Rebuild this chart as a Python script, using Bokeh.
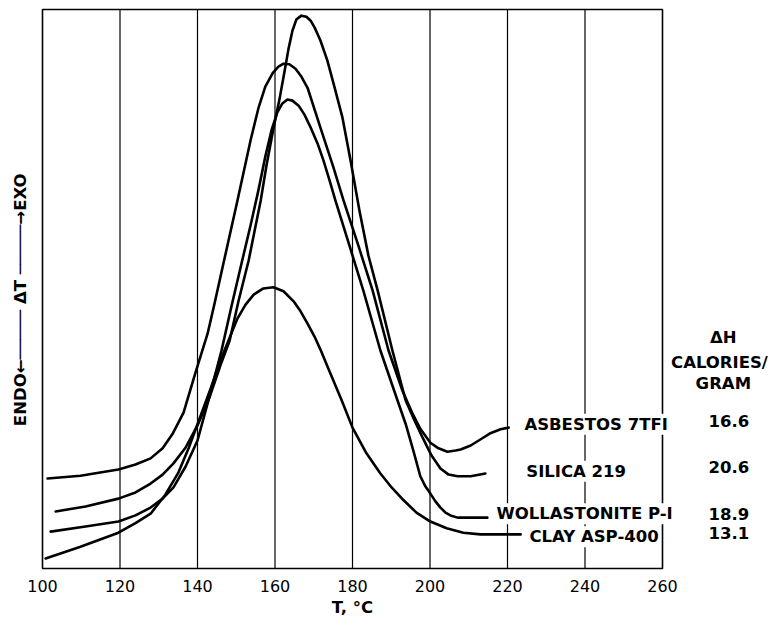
import math
from bokeh.plotting import figure
from bokeh.models import Range1d, Label, FixedTicker
from bokeh.embed import file_html
from bokeh.resources import INLINE

# ---- data (y is arbitrary deflection units 0-100) ----
x_ticks = [100, 120, 140, 160, 180, 200, 220, 240, 260]
y_box = [0, 100]

asb_T = [101.3, 109.8, 119.6, 124.0, 127.9, 131.0, 133.5, 136.4, 139.5, 142.6,
         144.4, 146.7, 150.3, 153.7, 155.7, 157.5, 159.4, 160.9, 162.2, 163.7,
         165.3, 166.8, 168.4, 171.7, 175.1, 177.7, 181.5, 185.2, 189.3, 192.9,
         195.5, 197.5, 200.1, 202.2, 204.5, 206.6, 207.9, 210.5, 213.5, 215.6,
         218.2, 220.3]
asb_Y = [16.1, 16.6, 17.7, 18.6, 19.7, 21.5, 24.0, 27.9, 35.1, 42.0,
         47.4, 54.6, 65.8, 76.6, 82.3, 86.2, 88.6, 89.8, 90.3, 90.2,
         89.4, 88.0, 86.0, 78.9, 71.7, 65.8, 57.8, 49.7, 39.0, 31.8,
         27.7, 25.0, 22.5, 21.5, 20.9, 21.1, 21.3, 22.0, 23.3, 24.2,
         24.9, 25.2]

sil_T = [103.4, 111.1, 119.6, 124.0, 127.9, 131.0, 133.8, 136.9, 140.0, 143.1,
         145.9, 148.3, 150.6, 153.2, 156.3, 157.8, 159.6, 161.2, 162.5, 163.5,
         164.5, 165.5, 166.8, 168.1, 169.2, 170.2, 171.7, 173.5, 175.1, 177.4,
         179.5, 181.8, 184.1, 186.5, 190.3, 193.7, 196.0, 198.1, 200.4, 202.7,
         204.8, 207.1, 210.5, 214.3]
sil_Y = [10.2, 11.1, 12.5, 13.6, 15.2, 16.8, 18.8, 21.6, 25.6, 30.6,
         36.3, 40.8, 47.9, 55.1, 65.8, 72.1, 78.7, 84.1, 89.1, 93.0,
         96.2, 98.2, 98.9, 98.7, 98.0, 96.8, 94.5, 90.9, 86.8, 80.7,
         73.0, 64.0, 56.0, 49.7, 39.0, 30.1, 26.5, 23.4, 20.2, 17.9,
         16.8, 16.5, 16.5, 17.0]

wol_T = [102.1, 111.1, 119.6, 124.0, 127.9, 131.0, 133.8, 136.9, 140.0, 143.1,
         146.2, 148.8, 151.4, 153.7, 155.7, 157.5, 159.1, 160.6, 161.9, 163.2,
         164.5, 166.1, 167.6, 169.2, 171.0, 172.5, 174.1, 175.6, 179.2, 182.8,
         187.2, 191.6, 193.7, 195.7, 197.5, 198.8, 200.1, 201.4, 202.7, 204.0,
         205.3, 207.1, 214.8]
wol_Y = [6.6, 7.5, 8.4, 9.5, 10.9, 12.5, 14.5, 18.2, 22.9, 30.8,
         39.0, 47.0, 54.7, 61.4, 67.6, 73.7, 78.4, 81.6, 83.2, 83.9,
         83.7, 82.8, 81.2, 78.9, 76.0, 73.0, 69.4, 65.8, 57.8, 49.7,
         39.0, 30.1, 25.9, 21.1, 16.5, 14.7, 13.4, 12.0, 10.9, 10.0,
         9.5, 9.1, 9.1]

clay_T = [100.8, 109.8, 119.6, 124.0, 127.9, 131.7, 135.1, 137.7, 140.0, 143.4,
          145.9, 148.0, 150.3, 152.4, 154.5, 157.0, 159.6, 162.2, 164.8, 166.6,
          168.4, 170.2, 171.7, 174.3, 177.2, 180.0, 183.6, 187.2, 190.1, 193.2,
          196.5, 200.1, 204.3, 208.6, 213.0, 223.4]
clay_Y = [1.8, 3.9, 6.4, 8.1, 9.8, 13.2, 17.2, 21.5, 25.8, 32.2,
          37.2, 40.8, 44.7, 47.2, 49.0, 50.1, 50.3, 49.6, 47.8, 46.0,
          43.8, 41.5, 39.2, 34.9, 30.1, 25.2, 20.6, 17.0, 14.5, 12.2,
          10.0, 8.4, 7.2, 6.4, 6.1, 6.1]

names = ["ASBESTOS 7TFI", "SILICA  219", "WOLLASTONITE P-I", "CLAY ASP-400"]
dH = ["16.6", "20.6", "18.9", "13.1"]

FONT = "DejaVu Sans"
FS = "16.5px"

# the frame covers the whole canvas; chart box drawn from x_ticks / y_box
p = figure(width=772, height=618,
           x_range=Range1d(89.1613, 288.3871), y_range=Range1d(-8.9445, 101.6100),
           output_backend="svg", toolbar_location=None,
           min_border=0, min_border_left=0, min_border_right=0,
           min_border_top=0, min_border_bottom=0)

p.background_fill_color = "white"
p.border_fill_color = "white"
p.outline_line_color = None
p.yaxis.visible = False
p.ygrid.visible = False
p.xgrid.visible = False

ax = p.xaxis[0]
ax.fixed_location = 0
ax.ticker = FixedTicker(ticks=x_ticks)
ax.axis_line_color = None
ax.major_tick_line_color = None
ax.minor_tick_line_color = None
ax.major_tick_in = 0
ax.major_tick_out = 0
ax.major_label_standoff = 11
ax.major_label_text_font = FONT
ax.major_label_text_font_size = "16px"
ax.major_label_text_color = "black"

# vertical grid lines at the ticks, inside the chart box
inner = x_ticks[1:-1]
p.segment(x0=inner, y0=[y_box[0]] * len(inner), x1=inner, y1=[y_box[1]] * len(inner),
          line_color="black", line_width=1.2)
# chart box
p.quad(left=[x_ticks[0]], right=[x_ticks[-1]], bottom=[y_box[0]], top=[y_box[1]],
       fill_color=None, line_color="black", line_width=1.6)

for T, Y in [(asb_T, asb_Y), (sil_T, sil_Y), (wol_T, wol_Y), (clay_T, clay_Y)]:
    p.line(T, Y, line_color="black", line_width=2.6, line_join="round", line_cap="round")

def lab(x, y, text, align="left", angle=0.0, bg=True, bold=True):
    L = Label(x=x, y=y, text=text, text_font=FONT, text_font_size=FS,
              text_font_style="bold" if bold else "normal",
              text_color="black", text_align=align, text_baseline="middle", angle=angle)
    if bg:
        L.background_fill_color = "white"
        L.padding = 1
    p.add_layout(L)

# curve labels
lab(224.1, 25.8, names[0])
lab(224.6, 17.4, names[1])
lab(216.9, 9.8, names[2])
lab(225.4, 5.7, names[3])

# heat values
lab(271.6, 26.3, dH[0])
lab(271.6, 18.2, dH[1])
lab(271.6, 9.8, dH[2])
lab(271.6, 6.3, dH[3])

lab(275.7, 41.3, "\u0394H", align="center")
lab(274.7, 36.9, "CALORIES/", align="center")
lab(275.7, 33.1, "GRAM", align="center")

# axis titles
lab(180.0, -7.0, "T, \u00b0C", align="center")
lab(94.3, 49.1, "ENDO\u2190\u2500\u2500\u2500\u2500\u2500  \u0394T  \u2500\u2500\u2500\u2500\u2500\u2192EXO",
    align="center", angle=math.pi / 2)

open("out.html", "w").write(file_html(p, INLINE))
